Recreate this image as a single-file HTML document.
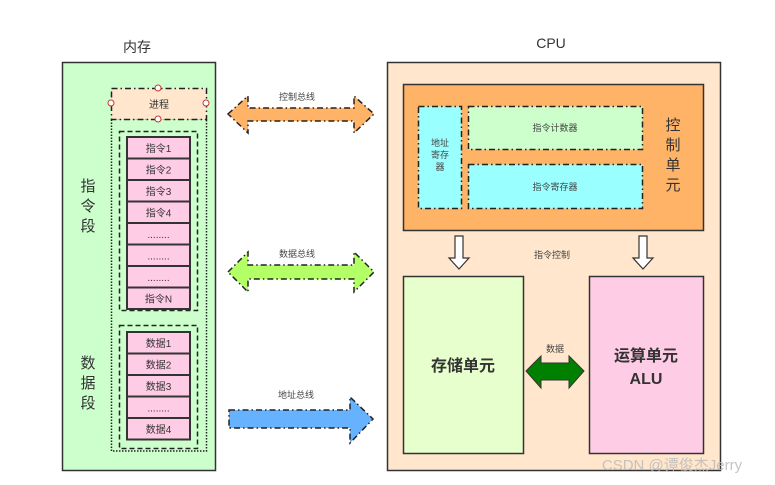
<!DOCTYPE html>
<html><head><meta charset="utf-8"><style>
html,body{margin:0;padding:0;background:#fff;}
svg{display:block;}
text{font-family:"Liberation Sans","Noto Sans CJK SC",sans-serif;}
</style></head><body>
<svg width="775" height="485" viewBox="0 0 775 485" xmlns="http://www.w3.org/2000/svg">
<!-- Memory -->
<text x="137" y="52" font-size="14" fill="#333" text-anchor="middle">内存</text>
<rect x="62.5" y="62.5" width="153" height="408" fill="#ccffcc" stroke="#333" stroke-width="1.5"/>
<rect x="111.5" y="119" width="95" height="332" fill="none" stroke="#222" stroke-width="1.5" stroke-dasharray="1.5,1.5"/>
<rect x="111.5" y="88.5" width="95" height="31" fill="#ffe6cc" stroke="#222" stroke-width="1.5" stroke-dasharray="6,3,1.5,3"/>
<text x="159" y="108" font-size="10" fill="#333" text-anchor="middle">进程</text>
<g fill="#fff" stroke="#c33" stroke-width="1"><circle cx="158" cy="88" r="3"/><circle cx="158" cy="119" r="3"/><circle cx="111" cy="103" r="3"/><circle cx="206" cy="103" r="3"/></g>
<rect x="119.5" y="131.5" width="78" height="179" fill="none" stroke="#222" stroke-width="1.5" stroke-dasharray="5,3"/>
<rect x="119.5" y="325.5" width="78" height="123" fill="none" stroke="#222" stroke-width="1.5" stroke-dasharray="5,3"/>
<g fill="#ffcce6" stroke="#333" stroke-width="2">
<rect x="127" y="137" width="63" height="21.5"/><rect x="127" y="158.5" width="63" height="21.5"/><rect x="127" y="180" width="63" height="21.5"/><rect x="127" y="201.5" width="63" height="21.5"/><rect x="127" y="223" width="63" height="21.5"/><rect x="127" y="244.5" width="63" height="21.5"/><rect x="127" y="266" width="63" height="21.5"/><rect x="127" y="287.5" width="63" height="21.5"/>
<rect x="127" y="332" width="63" height="21.5"/><rect x="127" y="353.5" width="63" height="21.5"/><rect x="127" y="375" width="63" height="21.5"/><rect x="127" y="396.5" width="63" height="21.5"/><rect x="127" y="418" width="63" height="21.5"/>
</g>
<g font-size="10" fill="#333" text-anchor="middle">
<text x="158.5" y="152">指令1</text><text x="158.5" y="173.5">指令2</text><text x="158.5" y="195">指令3</text><text x="158.5" y="216.5">指令4</text><text x="158.5" y="238">........</text><text x="158.5" y="259.5">........</text><text x="158.5" y="281">........</text><text x="158.5" y="302.5">指令N</text>
<text x="158.5" y="347">数据1</text><text x="158.5" y="368.5">数据2</text><text x="158.5" y="390">数据3</text><text x="158.5" y="411.5">........</text><text x="158.5" y="433">数据4</text>
</g>
<g font-size="15" fill="#333" text-anchor="middle">
<text x="88" y="191">指</text><text x="88" y="211">令</text><text x="88" y="231">段</text>
<text x="88" y="368">数</text><text x="88" y="388">据</text><text x="88" y="408">段</text>
</g>
<!-- buses -->
<g stroke="#222" stroke-width="1.5" stroke-dasharray="6,3,1.5,3">
<polygon points="228,114 248,96 248,108 354,108 354,96 374,114 354,133 354,121 248,121 248,133" fill="#ffb366"/>
<polygon points="228,272 248,252 248,265 354,265 354,252 374,272 354,292 354,279 248,279 248,292" fill="#b3ff66"/>
<polygon points="229,410 350,410 350,397 373,419 350,443 350,428 229,428" fill="#66b2ff"/>
</g>
<g font-size="9" fill="#444" text-anchor="middle">
<text x="297" y="100">控制总线</text><text x="297" y="257">数据总线</text><text x="296" y="398">地址总线</text>
</g>
<!-- CPU -->
<text x="551" y="48" font-size="14" fill="#333" text-anchor="middle">CPU</text>
<rect x="387.5" y="62.5" width="333" height="408" fill="#ffe6cc" stroke="#333" stroke-width="1.5"/>
<rect x="403.5" y="84.5" width="300" height="146" fill="#ffb366" stroke="#333" stroke-width="1.5"/>
<g stroke="#222" stroke-width="1.5" stroke-dasharray="6,3,1.5,3">
<rect x="418.5" y="106.5" width="43" height="102" fill="#99ffff"/>
<rect x="468.5" y="106.5" width="174" height="43" fill="#ccffcc"/>
<rect x="468.5" y="164.5" width="174" height="44" fill="#99ffff"/>
</g>
<g font-size="9" fill="#444" text-anchor="middle">
<text x="440" y="146">地址</text><text x="440" y="158">寄存</text><text x="440" y="170">器</text>
<text x="555" y="131">指令计数器</text><text x="555" y="190">指令寄存器</text>
<text x="552" y="258">指令控制</text><text x="555" y="352">数据</text>
</g>
<g font-size="15" fill="#333" text-anchor="middle">
<text x="673" y="130">控</text><text x="673" y="150">制</text><text x="673" y="170">单</text><text x="673" y="190">元</text>
</g>
<g fill="#fff" stroke="#333" stroke-width="1.2">
<polygon points="455,236 463,236 463,258 469,258 459,269 449,258 455,258"/>
<polygon points="639,236 647,236 647,258 653,258 643,269 633,258 639,258"/>
</g>
<rect x="403.5" y="276.5" width="120" height="177" fill="#e6ffcc" stroke="#333" stroke-width="1.5"/>
<rect x="589.5" y="276.5" width="114" height="177" fill="#ffcce6" stroke="#333" stroke-width="1.5"/>
<polygon points="526,371 541,356 541,363 569,363 569,356 584,371 569,388 569,380 541,380 541,388" fill="#008000" stroke="#333" stroke-width="1"/>
<g font-size="16" font-weight="bold" fill="#333" text-anchor="middle">
<text x="463" y="371">存储单元</text>
<text x="646" y="361">运算单元</text><text x="646" y="384">ALU</text>
</g>
<text x="672" y="470" font-size="15" fill="#bbb" fill-opacity="0.85" text-anchor="middle">CSDN @谭俊杰Jerry</text>
</svg>
</body></html>
